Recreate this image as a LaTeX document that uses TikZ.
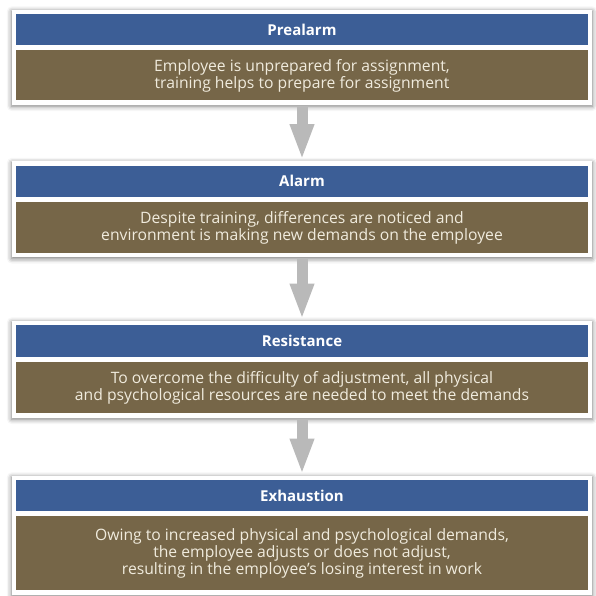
\documentclass[tikz,border=0pt]{standalone}
\usepackage{fontspec}
\setmainfont{Open Sans}
\usetikzlibrary{positioning,fit,backgrounds,arrows.meta,shadows.blur}
\definecolor{barblue}{HTML}{3C5E96}
\definecolor{barbrown}{HTML}{766648}
\definecolor{bartext}{HTML}{F0EBDD}
\tikzset{
	headbar/.style={fill=barblue, text=white, font=\bfseries\fontsize{15}{17}\selectfont, minimum width=572pt, minimum height=31pt, inner sep=0pt},
	bodybar/.style={fill=barbrown, text=bartext, font=\fontsize{15.7}{17}\selectfont, align=center, minimum width=572pt, inner sep=0pt},
	card/.style={fill=white, inner sep=4pt, blur shadow={shadow xshift=0pt, shadow yshift=-1.5pt, shadow blur radius=5pt, shadow opacity=55}},
	flowarrow/.style={draw=gray!55, line width=11pt, -{Triangle[width=22pt,length=36pt]}, shorten <=1pt, shorten >=1pt}
}
\begin{document}
\begin{tikzpicture}[x=1pt, y=-1pt, line join=round]
				\useasboundingbox (0,0) rectangle (596,595);
				\node[headbar] (prealarm) at (302,29.5) {Prealarm};
				\node[bodybar, minimum height=50pt, below=5pt of prealarm] (prealarmtxt) {Employee is unprepared for assignment,\\training helps to prepare for assignment};
				\node[headbar] (alarm) at (302,181) {Alarm};
				\node[bodybar, minimum height=51pt, below=5pt of alarm] (alarmtxt) {Despite training, differences are noticed and\\environment is making new demands on the employee};
				\node[headbar, minimum height=32pt] (resistance) at (302,341) {Resistance};
				\node[bodybar, minimum height=51pt, below=5pt of resistance] (resistancetxt) {To overcome the difficulty of adjustment, all physical\\and psychological resources are needed to meet the demands};
				\node[headbar] (exhaustion) at (302,495.5) {Exhaustion};
				\node[bodybar, minimum height=74pt, below=5pt of exhaustion] (exhaustiontxt) {Owing to increased physical and psychological demands,\\the employee adjusts or does not adjust,\\resulting in the employee's losing interest in work};
				\begin{scope}[on background layer]
					\node[card, fit=(prealarm)(prealarmtxt)] (prealarmcard) {};
					\node[card, fit=(alarm)(alarmtxt)] (alarmcard) {};
					\node[card, fit=(resistance)(resistancetxt)] (resistancecard) {};
					\node[card, fit=(exhaustion)(exhaustiontxt)] (exhaustioncard) {};
				\end{scope}
				\draw[flowarrow] (prealarmcard.south) -- (alarmcard.north);
				\draw[flowarrow] (alarmcard.south) -- (resistancecard.north);
				\draw[flowarrow] (resistancecard.south) -- (exhaustioncard.north);
\end{tikzpicture}
\end{document}
